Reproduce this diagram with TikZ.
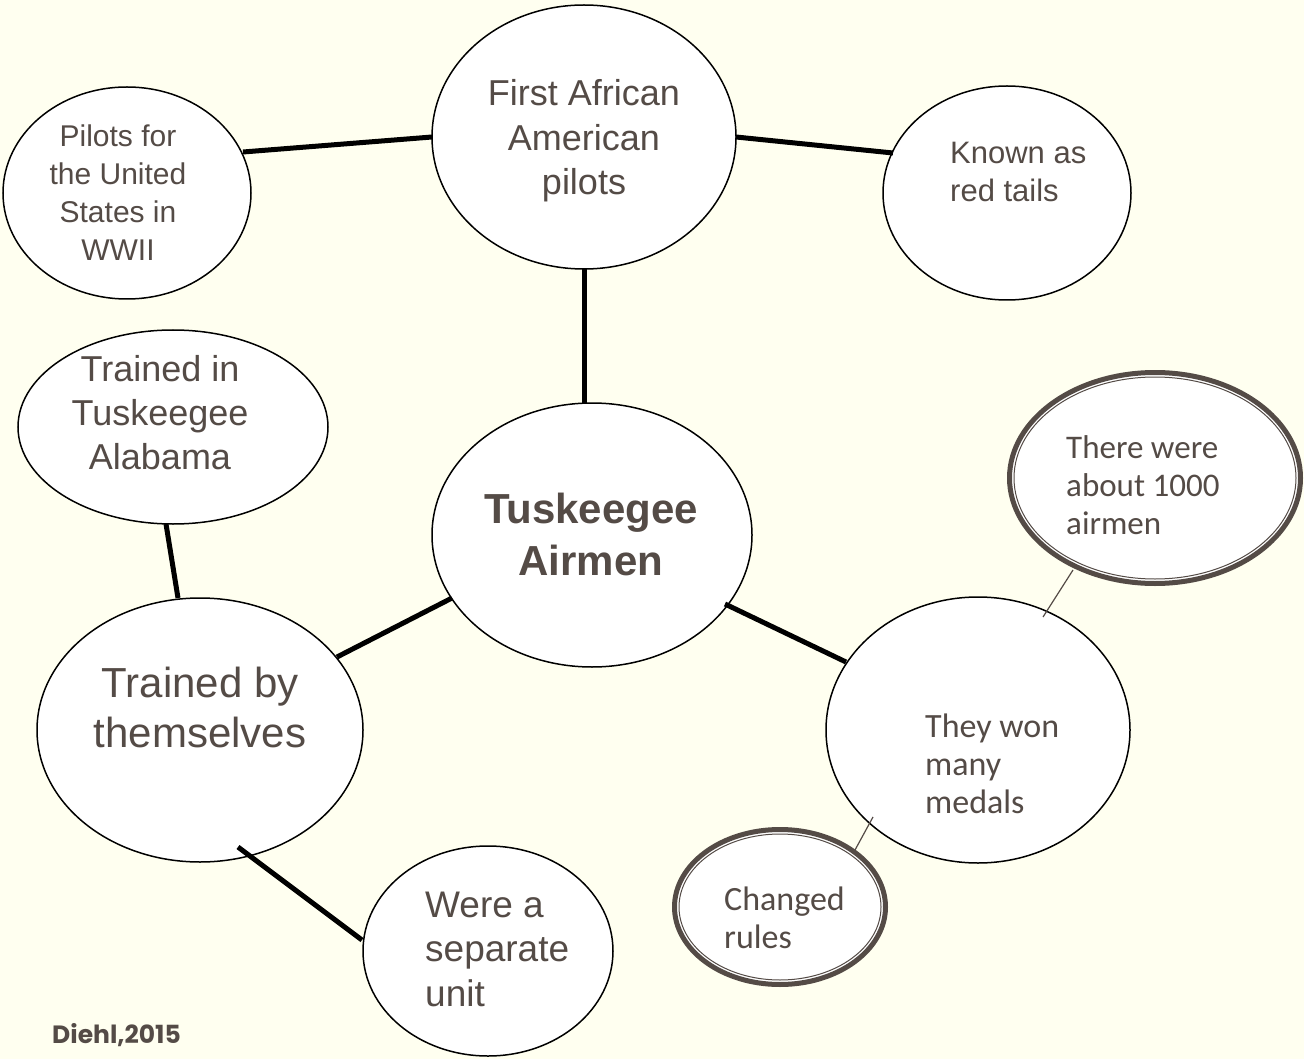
\documentclass[tikz,border=0pt]{standalone}
\usepackage{fontspec}
\setmainfont{Liberation Sans}
\newfontfamily\humfont{Carlito}
\newfontfamily\popfont{Poppins}
\usetikzlibrary{shapes.geometric,calc}
\definecolor{bgc}{HTML}{FFFFF0}
\definecolor{txt}{HTML}{544B46}
\begin{document}
\begin{tikzpicture}[x=1pt,y=-1pt,
  bubble/.style={ellipse, draw=black, line width=1.5pt, fill=white, inner sep=0pt},
  dblout/.style={ellipse, draw=txt, line width=5pt, fill=white, inner sep=0pt},
  dblin/.style={ellipse, draw=txt, line width=1pt, inner sep=0pt},
  lbl/.style={text=txt, inner sep=0pt},
  conn/.style={line width=5pt, black},
  thinconn/.style={line width=1.2pt, txt}]
\useasboundingbox (0,0) rectangle (1304,1059);
\fill[bgc] (0,0) rectangle (1304,1059);

% bubbles
\node[bubble, minimum width=304pt, minimum height=264pt] (first) at (584,137) {};
\node[bubble, minimum width=248pt, minimum height=212pt] (pilots) at (127,193) {};
\node[bubble, minimum width=248pt, minimum height=214pt] (known) at (1007,193) {};
\node[bubble, minimum width=310pt, minimum height=194pt] (trainedin) at (173,427) {};
\node[bubble, minimum width=320pt, minimum height=264pt] (center) at (592,535) {};
\node[bubble, minimum width=326pt, minimum height=264pt] (trainedby) at (200,730) {};
\node[bubble, minimum width=250pt, minimum height=210pt] (unit) at (488,951) {};
\node[bubble, minimum width=304pt, minimum height=266pt] (medals) at (978,730) {};
\node[dblout, minimum width=291pt, minimum height=211pt] (airmen) at (1155,478) {};
\node[dblin, minimum width=282pt, minimum height=202pt] (airmenin) at (airmen) {};
\node[dblout, minimum width=211pt, minimum height=155pt] (changed) at (780,907) {};
\node[dblin, minimum width=202pt, minimum height=146pt] (changedin) at (changed) {};

% connectors
\draw[conn] ($(pilots)+(116,-41)$) -- ($(first)+(-152,0)$);
\draw[conn] ($(first)+(152,0)$) -- ($(known)+(-114,-40)$);
\draw[conn] ($(first)+(0,132)$) -- ($(center)+(-8,-132)$);
\draw[conn] ($(trainedin)+(-7,97)$) -- ($(trainedby)+(-22,-132)$);
\draw[conn] ($(center)+(-140,63)$) -- ($(trainedby)+(137,-73)$);
\draw[conn] ($(center)+(133,69)$) -- ($(medals)+(-132,-68)$);
\draw[conn] ($(trainedby)+(38,117)$) -- ($(unit)+(-126,-11)$);
\draw[thinconn] ($(medals)+(65,-113)$) -- ($(airmen)+(-82,92)$);
\draw[thinconn] ($(medals)+(-105,87)$) -- ($(changed)+(75,-57)$);

% labels (anchor = baseline of the last line)
\node[lbl, anchor=base, align=center, font=\fontsize{36}{44.5}\selectfont] (tfirst) at (584,195) {First African\\American\\pilots};
\node[lbl, anchor=base, align=center, font=\fontsize{30}{38.3}\selectfont] (tpilots) at (118,261) {Pilots for\\the United\\States in\\WWII};
\node[lbl, anchor=base west, align=left, font=\fontsize{31}{38}\selectfont] (tknown) at (950,202) {Known as\\red tails};
\node[lbl, anchor=base, align=center, font=\fontsize{36}{44}\selectfont] (ttrainedin) at (160,469) {Trained in\\Tuskeegee\\Alabama};
\node[lbl, anchor=base, align=center, font=\fontsize{42}{52}\selectfont\bfseries] (tcenter) at (591,575) {Tuskeegee\\Airmen};
\node[lbl, anchor=base, align=center, font=\fontsize{42}{50}\selectfont] (ttrainedby) at (200,747) {Trained by\\themselves};
\node[lbl, anchor=base west, align=left, font=\fontsize{37}{44.5}\selectfont] (tunit) at (425,1006) {Were a\\separate\\unit};
\node[lbl, anchor=base west, align=left, font=\humfont\fontsize{34}{38}\selectfont] (tmedals) at (925,813) {They won\\many\\medals};
\node[lbl, anchor=base west, align=left, font=\humfont\fontsize{33}{38}\selectfont] (tairmen) at (1066,534) {There were\\about 1000\\airmen};
\node[lbl, anchor=base west, align=left, font=\humfont\fontsize{34}{38}\selectfont] (tchanged) at (724,948) {Changed\\rules};
\node[lbl, anchor=base west, font=\popfont\bfseries\fontsize{25}{30}\selectfont] (tcredit) at (52,1043) {Diehl,2015};
\end{tikzpicture}
\end{document}
